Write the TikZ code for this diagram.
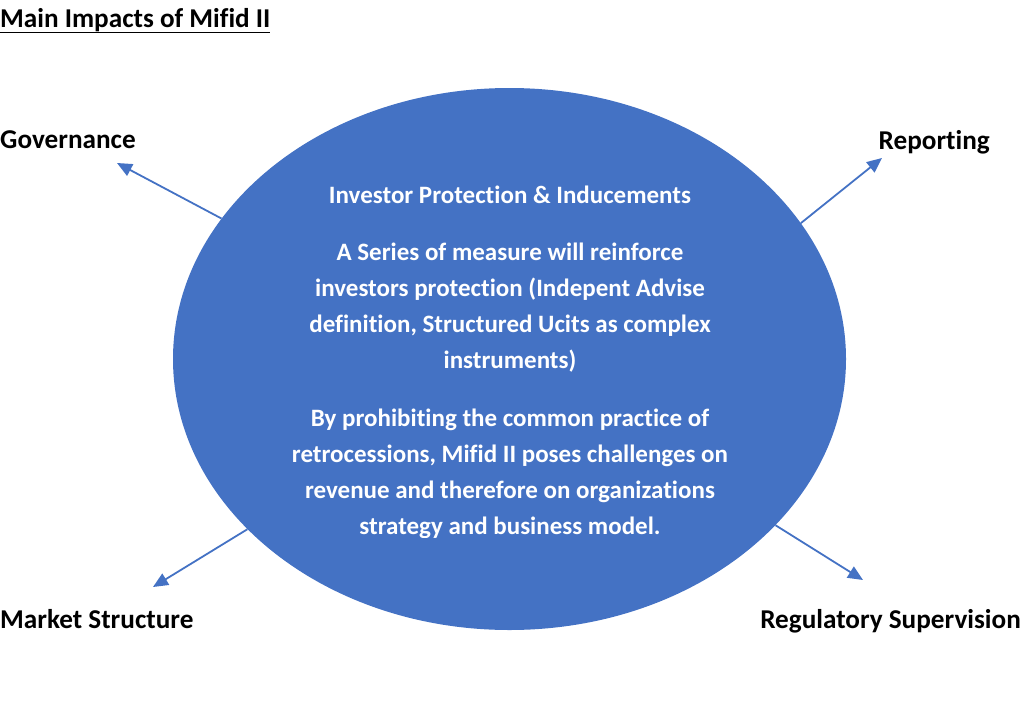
\documentclass[tikz,border=0pt]{standalone}
\usepackage{fontspec}
\setmainfont{Carlito}[Ligatures=NoCommon]
\usetikzlibrary{arrows.meta,shapes.geometric}
\definecolor{mifidblue}{HTML}{4472C4}
\begin{document}
\begin{tikzpicture}[x=1pt,y=-1pt,
  impact/.style={font=\bfseries\fontsize{27.2}{32}\selectfont, inner sep=0pt},
  inside/.style={font=\bfseries\fontsize{25}{36}\selectfont, text=white, align=center, inner sep=0pt},
  push/.style={draw=mifidblue, line width=1.8pt, -{Triangle[length=15pt,width=13pt]}}]
\useasboundingbox (0,0) rectangle (1025,718);
\node[impact, anchor=base west] (title) at (0,27){\underline{Main Impacts of Mifid II}};
\node[ellipse, fill=mifidblue, minimum width=673pt, minimum height=542pt, inner sep=0pt] (mifid) at (509.5,359){};
\node[inside, anchor=base] (prot) at (510,203){Investor Protection \& Inducements};
\node[inside] (advise) at (510,308){A Series of measure will reinforce\\investors protection (Indepent Advise\\definition, Structured Ucits as complex\\instruments)};
\begin{scope}
\clip (0,0) rectangle (1025,537);
\node[inside] (retro) at (510,474){By prohibiting the common practice of\\retrocessions, Mifid II poses challenges on\\revenue and therefore on organizations\\strategy and business model.};
\end{scope}
\node[impact, anchor=base west] (gov) at (0,148){Governance};
\node[impact, anchor=base east] (rep) at (990,149){Reporting};
\node[impact, anchor=base west] (mkt) at (0,628){Market Structure};
\node[impact, anchor=base east] (reg) at (1021,628){Regulatory Supervision};
\coordinate (govtip) at (117,163);
\coordinate (reptip) at (882,158);
\coordinate (mkttip) at (153,587);
\coordinate (regtip) at (863,580);
\draw[push](mifid.154) -- (govtip);
\draw[push](mifid.25.6) -- (reptip);
\draw[push](mifid.213) -- (mkttip);
\draw[push](mifid.328) -- (regtip);

\end{tikzpicture}
\end{document}
